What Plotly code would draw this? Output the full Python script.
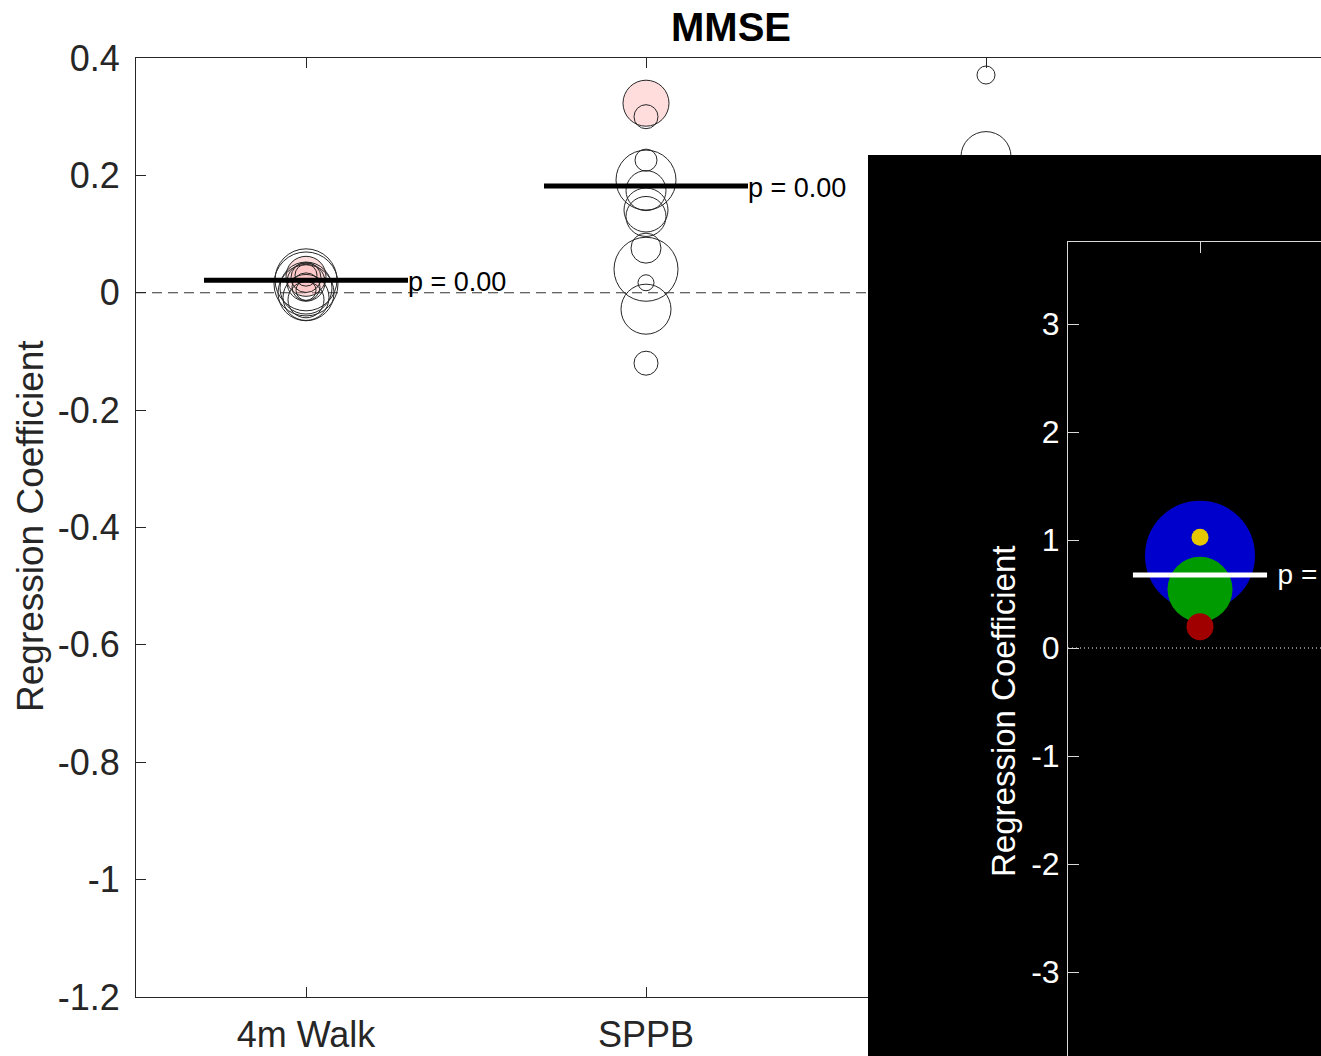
import plotly.graph_objects as go

W, H = 1321, 1056
FONT = "Liberation Sans, Arial, Helvetica, sans-serif"
AX = "#262626"

# ---------------- data (main axes) ----------------
categories = ["4m Walk", "SPPB", ""]
cat_pos = [1, 2, 3]
y_ticks = [0.4, 0.2, 0, -0.2, -0.4, -0.6, -0.8, -1, -1.2]
y_ticktext = ["0.4", "0.2", "0", "-0.2", "-0.4", "-0.6", "-0.8", "-1", "-1.2"]

walk_y = [0.028, 0.026, 0.022, 0.015, 0.008, 0.000, -0.008, -0.012, 0.018, 0.010, 0.004, 0.030]
walk_size = [40, 30, 62, 64, 52, 56, 46, 36, 38, 28, 20, 22]
walk_pink = [1, 1, 0, 0, 0, 0, 0, 0, 0, 0, 0, 0]

sppb_y = [0.323, 0.300, 0.226, 0.192, 0.174, 0.141, 0.130, 0.076, 0.040, 0.017, -0.028, -0.120]
sppb_size = [46, 24, 22, 60, 40, 44, 40, 30, 64, 16, 50, 24]
sppb_pink = [1, 0, 0, 0, 0, 0, 0, 0, 0, 0, 0, 0]

third_y = [0.371, 0.232]
third_size = [18, 50]
third_pink = [0, 0]

main_means = [0.0215, 0.182]
main_ptext = ["p = 0.00", "p = 0.00"]

# ---------------- data (inset axes) ----------------
inset_cat = 1
inset_y = [0.855, 0.543, 0.197, 1.025]
inset_size = [110, 65, 27, 17]
inset_colors = ["rgb(0,0,205)", "rgb(0,155,0)", "rgb(160,0,0)", "rgb(230,200,0)"]
inset_mean = 0.676
inset_ptext = "p = 0.00"
inset_yticks = [3, 2, 1, 0, -1, -2, -3]
inset_yticktext = ["3", "2", "1", "0", "-1", "-2", "-3"]

HALF_MAIN = 0.3
HALF_INSET = 0.254
INSET_TEXT_GAP = 0.04
MAIN_TEXT_DY = -0.007
INSET_TEXT_DY = -0.02
PINK = "rgba(255,170,170,0.4)"
CLEAR = "rgba(0,0,0,0)"

fig = go.Figure()

# dashed zero line (main)
fig.add_trace(go.Scatter(x=[0.5, 5], y=[0, 0], mode="lines",
                         line=dict(color="#333333", width=1, dash="10px,6px"),
                         xaxis="x", yaxis="y", hoverinfo="skip", showlegend=False))

groups = [(walk_y, walk_size, walk_pink), (sppb_y, sppb_size, sppb_pink),
          (third_y, third_size, third_pink)]
for pos, (ys, ss, pk) in zip(cat_pos, groups):
    fig.add_trace(go.Scatter(
        x=[pos] * len(ys), y=ys, mode="markers",
        marker=dict(size=ss, color=[PINK if p else CLEAR for p in pk], opacity=1,
                    line=dict(color=AX, width=1), symbol="circle"),
        xaxis="x", yaxis="y", hoverinfo="skip", showlegend=False))

for pos, m, t in zip(cat_pos, main_means, main_ptext):
    fig.add_trace(go.Scatter(x=[pos - HALF_MAIN, pos + HALF_MAIN], y=[m, m], mode="lines",
                             line=dict(color="black", width=5),
                             xaxis="x", yaxis="y", hoverinfo="skip", showlegend=False))
    fig.add_trace(go.Scatter(x=[pos + HALF_MAIN], y=[m + MAIN_TEXT_DY], mode="text", text=[t],
                             textposition="middle right",
                             textfont=dict(family=FONT, size=27, color="black"),
                             xaxis="x", yaxis="y", hoverinfo="skip", showlegend=False))

# outer black panel (blank subplot)
fig.add_trace(go.Scatter(x=[None], y=[None], mode="markers", xaxis="x2", yaxis="y2",
                         hoverinfo="skip", showlegend=False))

# inset subplot
fig.add_trace(go.Scatter(x=[0.5, 3], y=[0, 0], mode="lines",
                         line=dict(color="white", width=1, dash="1px,3px"),
                         xaxis="x3", yaxis="y3", hoverinfo="skip", showlegend=False))
fig.add_trace(go.Scatter(x=[inset_cat] * len(inset_y), y=inset_y, mode="markers",
                         marker=dict(size=inset_size, color=inset_colors, opacity=1,
                                     line=dict(width=0)),
                         xaxis="x3", yaxis="y3", hoverinfo="skip", showlegend=False))
fig.add_trace(go.Scatter(x=[inset_cat - HALF_INSET, inset_cat + HALF_INSET],
                         y=[inset_mean, inset_mean], mode="lines",
                         line=dict(color="white", width=5),
                         xaxis="x3", yaxis="y3", hoverinfo="skip", showlegend=False))
fig.add_trace(go.Scatter(x=[inset_cat + HALF_INSET + INSET_TEXT_GAP], y=[inset_mean + INSET_TEXT_DY],
                         mode="text", text=[inset_ptext], textposition="middle right",
                         textfont=dict(family=FONT, size=28, color="white"),
                         xaxis="x3", yaxis="y3", hoverinfo="skip", showlegend=False))

x_main_rng = [0.5, 0.5 + (W - 136) / 340.0]
x_in_rng = [0.5, 0.5 + (W - 1068) / 264.0]
y_in_rng = [(648 - 1056) / 108.0, (648 - 242) / 108.0]

fig.update_layout(
    width=W, height=H,
    margin=dict(l=0, r=0, t=0, b=0, pad=0),
    template="none",
    paper_bgcolor="white",
    plot_bgcolor="black",
    showlegend=False,
    font=dict(family=FONT, color=AX),
    title=dict(text="<b>MMSE</b>", x=731 / W, xanchor="center", y=1 - 27 / H, yanchor="middle",
               font=dict(family=FONT, size=40, color="black")),
    xaxis=dict(domain=[136 / W, 1], range=x_main_rng, tickvals=cat_pos, ticktext=categories,
               ticks="inside", ticklen=10, tickcolor=AX, tickwidth=1,
               showline=True, linecolor=AX, linewidth=1, mirror="ticks",
               showgrid=False, zeroline=False, automargin=False,
               tickfont=dict(family=FONT, size=36, color=AX), ticklabelstandoff=6,
               anchor="y"),
    yaxis=dict(domain=[(H - 997) / H, (H - 58) / H], range=[-1.2, 0.4],
               tickvals=y_ticks, ticktext=y_ticktext,
               ticks="inside", ticklen=10, tickcolor=AX, tickwidth=1,
               showline=True, linecolor=AX, linewidth=1, mirror=False,
               showgrid=False, zeroline=False, automargin=False,
               tickfont=dict(family=FONT, size=36, color=AX), ticklabelstandoff=8,
               anchor="x"),
    xaxis2=dict(domain=[868 / W, 1], range=[0, 1], visible=False, anchor="y2"),
    yaxis2=dict(domain=[0, (H - 155) / H], range=[0, 1], visible=False, anchor="x2"),
    xaxis3=dict(domain=[1068 / W, 1], range=x_in_rng, tickvals=[inset_cat], side="top",
                showticklabels=False, ticks="inside", ticklen=11, tickcolor="#d9d9d9",
                showline=True, linecolor="#d9d9d9", linewidth=1, mirror=False,
                showgrid=False, zeroline=False, automargin=False, anchor="y3"),
    yaxis3=dict(domain=[0, (H - 242) / H], range=y_in_rng,
                tickvals=inset_yticks, ticktext=inset_yticktext,
                ticks="inside", ticklen=11, tickcolor="#d9d9d9", tickwidth=1,
                showline=True, linecolor="#d9d9d9", linewidth=1, mirror=False,
                showgrid=False, zeroline=False, automargin=False,
                tickfont=dict(family=FONT, size=32, color="white"), ticklabelstandoff=1,
                anchor="x3"),
    shapes=[dict(type="rect", xref="x", yref="y", x0=x_main_rng[0], x1=x_main_rng[1],
                 y0=-1.2, y1=0.4, fillcolor="white", line=dict(width=0), layer="below")],
    annotations=[
        dict(text="Regression Coefficient", x=30 / W, y=1 - 526 / H, xref="paper", yref="paper",
             textangle=-90, showarrow=False, xanchor="center", yanchor="middle",
             font=dict(family=FONT, size=37, color=AX)),
        dict(text="Regression Coefficient", x=1003 / W, y=1 - 712 / H, xref="paper", yref="paper",
             textangle=-90, showarrow=False, xanchor="center", yanchor="middle",
             font=dict(family=FONT, size=33, color="white")),
    ],
)

fig.write_html("out.html",
               config={"displayModeBar": False, "staticPlot": True},
               post_script="document.body.style.margin='0px';"
                           "document.body.style.overflow='hidden';")
